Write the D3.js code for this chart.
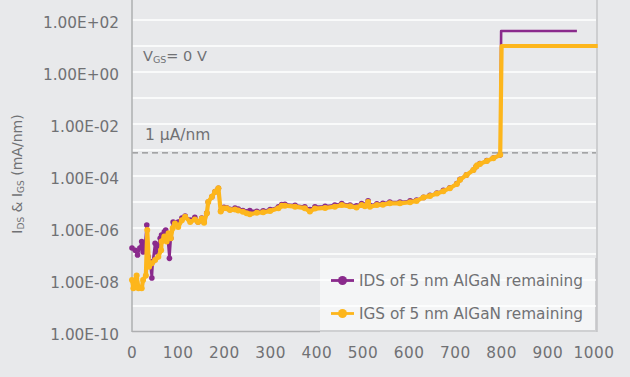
<!DOCTYPE html>
<html><head><meta charset="utf-8">
<script src="https://cdn.jsdelivr.net/npm/d3@7"></script>
<style>
html,body{margin:0;padding:0;background:#e8e9eb;}
text{font-family:"DejaVu Sans",sans-serif;fill:#707174;}
</style></head>
<body>
<svg id="c" width="630" height="377"></svg>
<script>
// ---- data ----
const xTickValues = [0,100,200,300,400,500,600,700,800,900,1000];
const yTickValues = [1e2,1e0,1e-2,1e-4,1e-6,1e-8,1e-10];
const yTickLabels = ["1.00E+02","1.00E+00","1.00E-02","1.00E-04","1.00E-06","1.00E-08","1.00E-10"];
const gridValues = [1e2,1e1,1e0,1e-1,1e-2,1e-3,1e-4,1e-5,1e-6,1e-7,1e-8,1e-9];
const limitValue = 7.7e-4; // "1 µA/nm" dashed reference
const seriesNames = ["IDS of 5 nm AlGaN remaining","IGS of 5 nm AlGaN remaining"];

const idsX = [0,7,12,17,21,24,28,32,35,39,43,45,50,53,57,61,64,70,73,77,81,84,89,93,100,108,115,126,136,143,151,156,162,165,173,180,187,192,199,205,212,223,230,240,248,255,262,270,284,299,317,324,331,353,374,385,396,418,439,454,472,486,497,504,511,515,530,543,558,580,602,616,631,645,660,674,688,703,710,724,739,745,753,768,782,797,799,963];
const idsY = [1.7e-7,1.4e-7,9.1e-8,1.7e-7,3.0e-7,1.2e-7,2.2e-7,1.3e-6,7.9e-8,5.0e-8,1.2e-8,5.0e-8,2.6e-7,1.2e-7,2.2e-7,4.0e-7,5.4e-7,7.2e-7,8.3e-7,4.7e-7,6.8e-8,4.0e-7,1.7e-6,1.5e-6,1.7e-6,2.4e-6,2.9e-6,2.0e-6,2.6e-6,1.7e-6,2.4e-6,1.7e-6,3.8e-6,1.0e-5,1.6e-5,2.5e-5,3.4e-5,4.5e-6,6.2e-6,6.0e-6,5.2e-6,5.8e-6,5.4e-6,4.7e-6,4.2e-6,4.7e-6,4.0e-6,4.4e-6,4.6e-6,5.1e-6,6.5e-6,7.9e-6,8.1e-6,7.4e-6,6.5e-6,5.1e-6,6.5e-6,6.8e-6,7.6e-6,8.7e-6,7.6e-6,7.1e-6,8.7e-6,7.6e-6,1.1e-5,7.4e-6,8.5e-6,8.9e-6,1.0e-5,1.0e-5,1.1e-5,1.2e-5,1.5e-5,1.8e-5,2.2e-5,2.8e-5,3.5e-5,5.1e-5,7.4e-5,1.1e-4,1.7e-4,2.3e-4,3.0e-4,3.9e-4,4.9e-4,6.5e-4,38,38];

const igsX = [0,3,10,14,21,24,30,33,37,43,50,57,63,64,70,75,79,84,88,93,100,108,115,126,136,143,151,156,162,165,173,180,187,192,198,205,212,223,230,240,248,255,270,284,299,317,324,331,353,374,385,396,418,439,454,472,486,497,504,511,515,530,543,558,580,602,616,631,645,660,674,688,703,710,724,739,745,747,753,768,782,797,800,1008];
const igsY = [1.0e-8,4.8e-9,1.5e-8,4.8e-9,4.8e-9,1.0e-8,1.5e-8,8.3e-7,3.2e-8,4.4e-8,5.9e-8,7.9e-8,1.4e-7,3.0e-7,4.7e-7,3.0e-7,6.3e-7,4.0e-7,9.8e-7,1.5e-6,1.1e-6,2.0e-6,2.7e-6,1.7e-6,2.1e-6,1.7e-6,2.3e-6,1.6e-6,3.7e-6,1.0e-5,1.6e-5,2.5e-5,3.4e-5,4.3e-6,5.8e-6,5.8e-6,4.9e-6,5.2e-6,4.7e-6,4.2e-6,3.7e-6,3.4e-6,3.9e-6,4.0e-6,4.5e-6,5.8e-6,7.1e-6,7.2e-6,6.6e-6,5.8e-6,4.3e-6,5.6e-6,5.9e-6,6.6e-6,7.6e-6,6.8e-6,6.2e-6,7.6e-6,6.8e-6,1.0e-5,6.6e-6,7.6e-6,7.9e-6,8.9e-6,8.9e-6,9.8e-6,1.1e-5,1.5e-5,1.7e-5,2.1e-5,2.6e-5,3.4e-5,4.9e-5,7.1e-5,1.1e-4,1.7e-4,2.3e-4,2.6e-4,2.9e-4,3.8e-4,4.8e-4,6.5e-4,10,10];

// ---- layout ----
const svg = d3.select("#c");
const pL = 132, pR = 597, pB = 332, pT = 0;
const x = d3.scaleLinear().domain([0,1000]).range([132,594]);
const y = d3.scaleLog().domain([1e-10,1e2]).range([332,20]);
const purple = "#8a2a8c", orange = "#fdb61c";

svg.append("rect").attr("width",630).attr("height",377).attr("fill","#e8e9eb");

// legend background (under gridlines, as in reference)
const lg = {x0:320,y0:258,x1:596,y1:331};
svg.append("rect").attr("x",lg.x0).attr("y",lg.y0).attr("width",lg.x1-lg.x0).attr("height",lg.y1-lg.y0)
  .attr("fill","#f4f5f6");
svg.append("path").attr("d",`M${lg.x1},${lg.y0}V${lg.y1}H${lg.x0}`).attr("fill","none")
  .attr("stroke","#cfd0d2").attr("stroke-width",2);

// gridlines
svg.append("g").selectAll("line").data(gridValues).join("line")
  .attr("x1",pL).attr("x2",pR-1).attr("y1",d=>y(d)).attr("y2",d=>y(d))
  .attr("stroke","#ffffff").attr("stroke-width",1.6);

// dashed limit line
svg.append("line").attr("x1",pL).attr("x2",pR-1).attr("y1",y(limitValue)).attr("y2",y(limitValue))
  .attr("stroke","#8c8d8f").attr("stroke-width",1.3).attr("stroke-dasharray","6,4");

// frame lines
svg.append("line").attr("x1",pL).attr("x2",pL).attr("y1",pT).attr("y2",pB).attr("stroke","#aeafb1").attr("stroke-width",1.5);
svg.append("line").attr("x1",pR).attr("x2",pR).attr("y1",pT).attr("y2",pB).attr("stroke","#c4c5c7").attr("stroke-width",1.5);
svg.append("line").attr("x1",pL).attr("x2",lg.x0).attr("y1",pB-0.5).attr("y2",pB-0.5).attr("stroke","#aeafb1").attr("stroke-width",1.5);

// y tick labels
svg.append("g").selectAll("text").data(yTickValues).join("text")
  .attr("x",119).attr("y",d=>y(d)+3).attr("dy","0.35em").attr("text-anchor","end")
  .attr("font-size",15.3).text((d,i)=>yTickLabels[i]);

// x tick labels
svg.append("g").selectAll("text").data(xTickValues).join("text")
  .attr("x",d=>x(d)).attr("y",353).attr("dy","0.35em").attr("text-anchor","middle")
  .attr("font-size",15.3).attr("letter-spacing",0.5).text(d=>d);

// y axis title
const yt = svg.append("text").attr("transform","translate(22,174) rotate(-90)").attr("text-anchor","middle").attr("font-size",14);
yt.append("tspan").text("I");
yt.append("tspan").attr("font-size",9).attr("dy",2).text("DS");
yt.append("tspan").attr("dy",-2).text(" & I");
yt.append("tspan").attr("font-size",9).attr("dy",2).text("GS");
yt.append("tspan").attr("dy",-2).text(" (mA/nm)");

// annotations
const va = svg.append("text").attr("x",143).attr("y",61).attr("font-size",14.5);
va.append("tspan").text("V");
va.append("tspan").attr("font-size",9.5).attr("dy",2).text("GS");
va.append("tspan").attr("dy",-2).text("= 0 V");
svg.append("text").attr("x",145).attr("y",140).attr("font-size",15.5).text("1 µA/nm");

// series
const line = d3.line().x(d=>x(d[0])).y(d=>y(d[1]));
const ids = idsX.map((v,i)=>[v,idsY[i]]);
const igs = igsX.map((v,i)=>[v,igsY[i]]);

function drawSeries(data,color,w,r){
  svg.append("path").datum(data).attr("d",line).attr("fill","none")
    .attr("stroke",color).attr("stroke-width",w).attr("stroke-linejoin","round");
  svg.append("g").selectAll("circle").data(data.filter(d=>d[0]<798)).join("circle")
    .attr("cx",d=>x(d[0])).attr("cy",d=>y(d[1])).attr("r",r).attr("fill",color);
}
drawSeries(ids,purple,2.6,2.8);
drawSeries(igs,orange,4.2,3);

// legend entries
const rows = [{name:seriesNames[0],color:purple,yy:280.5},{name:seriesNames[1],color:orange,yy:313.5}];
rows.forEach(r=>{
  svg.append("line").attr("x1",331).attr("x2",354).attr("y1",r.yy).attr("y2",r.yy).attr("stroke",r.color).attr("stroke-width",2.8);
  svg.append("circle").attr("cx",342.5).attr("cy",r.yy).attr("r",4.5).attr("fill",r.color);
  svg.append("text").attr("x",359).attr("y",r.yy).attr("dy","0.35em").attr("font-size",15.3).text(r.name);
});
</script>
</body></html>
